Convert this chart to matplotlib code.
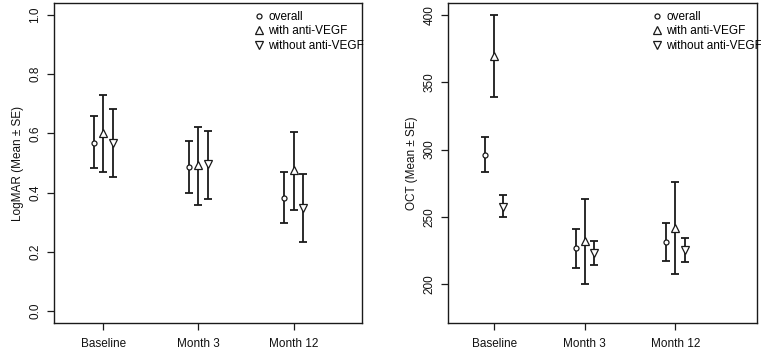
import numpy as np
import matplotlib
matplotlib.use('Agg')
import matplotlib.pyplot as plt
from matplotlib.lines import Line2D

plt.rcParams['font.family'] = ['Liberation Sans', 'DejaVu Sans']

visits = ['Baseline', 'Month 3', 'Month 12']
groups = ['overall', 'with anti-VEGF', 'without anti-VEGF']
markers = ['o', '^', 'v']
msizes = [3.6, 5.5, 5.5]

# LogMAR mean, lower, upper  (rows: overall, with, without)
logmar_mean = [[0.569, 0.485, 0.383],
               [0.602, 0.492, 0.476],
               [0.566, 0.495, 0.348]]
logmar_lo = [[0.482, 0.399, 0.296],
             [0.469, 0.358, 0.342],
             [0.452, 0.380, 0.234]]
logmar_hi = [[0.660, 0.573, 0.469],
             [0.731, 0.621, 0.606],
             [0.682, 0.608, 0.464]]

# OCT mean, lower, upper
oct_mean = [[296.2, 226.6, 231.3],
            [369.4, 231.8, 241.9],
            [257.7, 222.9, 225.4]]
oct_lo = [[283.1, 212.3, 217.0],
          [339.3, 200.0, 207.9],
          [249.8, 214.0, 216.3]]
oct_hi = [[309.2, 240.7, 245.6],
          [400.0, 263.4, 275.7],
          [266.3, 231.8, 234.0]]

offsets = [-0.1, 0.0, 0.1]
col = '#1a1a1a'

fig = plt.figure(figsize=(7.61, 3.51), dpi=100)
ax1 = fig.add_axes([54/761, 28/351, 308/761, 320/351])
ax2 = fig.add_axes([448/761, 28/351, 309/761, 320/351])


def yticks_fmt(ticks):
    if max(ticks) <= 1.0:
        return ['%.1f' % t for t in ticks]
    return ['%d' % t for t in ticks]


def panel(ax, mean, lo, hi, ylabel, yticks, ylim, xlim, leg_x):
    x = np.arange(1, len(visits) + 1)
    for g in range(len(groups)):
        m = np.array(mean[g])
        err = [m - np.array(lo[g]), np.array(hi[g]) - m]
        ax.errorbar(x + offsets[g], m, yerr=err, fmt='none', ecolor=col,
                    elinewidth=1.3, capsize=3.2, capthick=1.3, zorder=2)
        ax.plot(x + offsets[g], m, linestyle='none', marker=markers[g],
                ms=msizes[g], mfc='white', mec=col, mew=0.9, zorder=3)
    ax.set_xlim(*xlim)
    ax.set_ylim(*ylim)
    ax.set_xticks(x)
    ax.set_xticklabels(visits, fontsize=8.5, color='#111111')
    ax.set_yticks(yticks)
    ax.set_yticklabels(yticks_fmt(yticks), fontsize=8.5, rotation=90,
                       va='center', color='#111111')
    ax.set_ylabel(ylabel, fontsize=8.5, labelpad=4, color='#111111')
    ax.tick_params(axis='x', length=5, width=0.9, color=col, pad=6)
    ax.tick_params(axis='y', length=5, width=0.9, color=col, pad=4)
    for s in ax.spines.values():
        s.set_linewidth(1.0)
        s.set_color(col)
    handles = [Line2D([], [], linestyle='none', marker=markers[g], ms=msizes[g],
                      mfc='white', mec=col, mew=0.9) for g in range(len(groups))]
    ax.legend(handles, groups, loc='upper left', bbox_to_anchor=(leg_x, 0.975),
              frameon=False, fontsize=8.5, handlelength=0.8, handletextpad=0.4,
              labelspacing=0.2, borderpad=0, borderaxespad=0)


panel(ax1, logmar_mean, logmar_lo, logmar_hi, 'LogMAR (Mean \u00b1 SE)',
      [0.0, 0.2, 0.4, 0.6, 0.8, 1.0], (-0.04, 1.04), (0.48, 3.72), 0.65)
panel(ax2, oct_mean, oct_lo, oct_hi, 'OCT (Mean \u00b1 SE)',
      [200, 250, 300, 350, 400], (171.2, 408.8), (0.49, 3.9), 0.66)

fig.savefig('out.png', dpi=100)
